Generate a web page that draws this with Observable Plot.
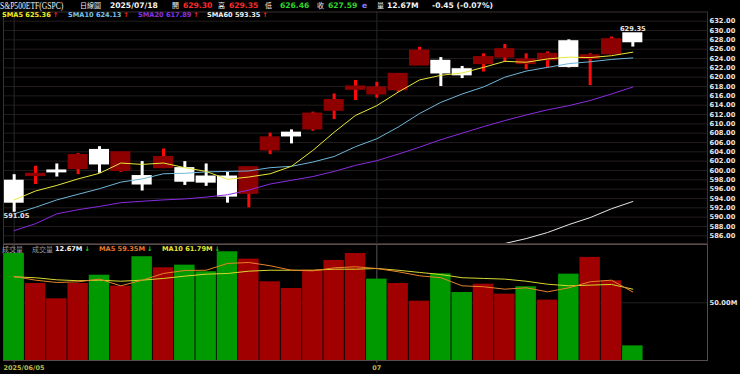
<!DOCTYPE html>
<html><head><meta charset="utf-8">
<script src="https://cdn.jsdelivr.net/npm/d3@7"></script>
<script src="https://cdn.jsdelivr.net/npm/@observablehq/plot@0.6"></script>
<style>
html,body{margin:0;padding:0;background:#000;}
#wrap{position:relative;width:740px;height:374px;background:#000;overflow:hidden;}
#wrap svg{position:absolute;left:0;}
.t{position:absolute;white-space:nowrap;line-height:1;font-family:"DejaVu Sans",sans-serif;font-weight:bold;}
.cjk{font-family:"Noto Sans CJK TC","Noto Sans CJK SC",sans-serif;font-weight:normal;}
.serif{font-family:"Liberation Serif","DejaVu Serif",serif;font-weight:normal;transform:scaleX(0.8);transform-origin:0 50%;}
</style></head><body>
<div id="wrap"></div>
<script>
// ---------- data ----------
const dates = ["2025/06/05","2025/06/06","2025/06/09","2025/06/10","2025/06/11","2025/06/12","2025/06/13","2025/06/16","2025/06/17","2025/06/18","2025/06/20","2025/06/23","2025/06/24","2025/06/25","2025/06/26","2025/06/27","2025/06/30","2025/07/01","2025/07/02","2025/07/03","2025/07/07","2025/07/08","2025/07/09","2025/07/10","2025/07/11","2025/07/14","2025/07/15","2025/07/16","2025/07/17","2025/07/18"];
const opens  = [597.7,598.9,599.9,600.4,604.3,600.0,598.7,600.6,600.4,598.6,598.6,595.1,604.4,608.0,608.9,612.9,617.4,616.4,617.3,622.6,623.4,621.6,622.9,624.3,622.9,623.7,627.6,624.0,625.0,629.30];
const highs  = [599.1,600.9,601.4,603.6,605.1,603.9,601.9,604.6,601.9,601.4,599.6,600.7,608.0,608.7,612.5,616.4,619.3,618.9,620.7,626.4,624.2,622.3,625.0,627.0,625.0,625.4,628.0,625.0,628.6,629.35];
const lows   = [591.05,597.0,598.6,599.1,599.4,599.6,595.6,600.4,596.8,596.6,593.0,592.0,603.4,605.7,608.4,610.9,615.0,615.5,616.8,622.5,618.0,619.7,621.1,623.2,621.6,622.0,622.0,618.2,624.8,626.46];
const closes = [593.2,599.2,599.7,603.2,601.4,603.8,597.1,602.8,597.7,597.5,594.5,600.6,607.0,607.4,612.1,615.0,617.9,617.7,620.6,625.6,620.9,620.5,624.2,625.9,623.7,624.9,622.3,624.6,628.04,627.59];
const prevClose0 = 596.0;
const sma5  = [593.7,595.6,596.8,598.2,599.4,601.6,601.3,601.6,600.6,599.8,598.1,598.6,599.3,600.9,604.3,608.2,611.8,613.9,616.8,619.4,620.4,620.9,622.1,623.4,623.2,623.9,624.3,624.2,624.6,625.36];
const sma10 = [590.7,592.1,593.7,594.9,596.1,597.5,598.2,599.3,599.4,599.7,599.8,599.9,600.6,600.9,601.8,603.0,605.1,606.8,609.3,612.2,614.6,616.4,617.9,620.0,621.3,622.1,622.9,623.3,623.8,624.13];
const sma20 = [587.1,588.6,590.7,591.6,592.3,593.1,593.4,593.7,593.9,594.3,594.8,595.8,597.1,597.9,598.7,599.8,601.1,602.1,603.5,605.0,606.6,608.0,609.4,610.7,611.9,613.0,613.9,615.0,616.4,617.89];
const sma60 = [562.5,563.0,563.4,563.9,564.5,565.2,565.6,566.3,566.9,567.4,567.9,568.6,569.4,570.3,571.4,572.5,573.7,575.0,576.4,577.9,579.5,581.0,582.7,584.3,585.4,586.7,588.4,589.9,591.8,593.35];
const volumes = [92.7,66.7,53.5,66.7,73.9,64.4,89.9,80.3,82.6,76.9,94.2,87.8,68.2,62.4,78.2,86.7,92.7,70.5,66.7,51.4,75.1,58.9,66.1,57.5,63.9,52.3,74.8,89.3,69.1,12.67];
const volMa5  = [72.8,69.6,67.6,68.2,70.5,64.7,69.6,75.4,78.0,78.2,84.1,84.9,82.1,78.2,77.7,80.3,81.2,79.7,76.9,73.4,71.7,64.7,63.9,61.8,63.0,59.5,63.0,68.2,69.6,59.35];
const volMa10 = [72.5,71.7,69.9,69.1,69.6,68.7,69.6,71.1,73.1,74.8,75.4,77.4,78.2,78.2,78.2,79.1,79.1,79.7,78.2,76.3,74.5,71.7,71.1,70.5,68.7,66.1,64.7,65.3,65.9,61.79];
const priceTicks = [586,588,590,592,594,596,598,600,602,604,606,608,610,612,614,616,618,620,622,624,626,628,630,632];
const volTicks = [50];
const title = "S&P500ETF(GSPC)";
const periodLabel = "日線圖";

// ---------- derived table ----------
const rows = dates.map((d, i) => ({
  i, date: d, open: opens[i], high: highs[i], low: lows[i], close: closes[i], vol: volumes[i],
  up: closes[i] >= opens[i],
  volUp: closes[i] >= (i ? closes[i - 1] : prevClose0),
  s5: sma5[i], s10: sma10[i], s20: sma20[i], s60: sma60[i], v5: volMa5[i], v10: volMa10[i]
}));
const dateTicks = rows.filter((d, i) => i === 0 || d.date.slice(5, 7) !== rows[i - 1].date.slice(5, 7))
  .map((d, k) => ({i: d.i, label: k === 0 ? d.date : d.date.slice(5, 7)}));
const N = rows.length;
const xDomain = [-0.5, N + 2.5];

const wrap = document.getElementById("wrap");
const font = {fontFamily: "DejaVu Sans, sans-serif", fontWeight: "bold", fontSize: "6.7px", color: "#e6e6e6", background: "transparent", overflow: "visible"};

// ---------- price panel ----------
const lowest = d3.least(rows, d => d.low);
const highest = d3.greatest(rows, d => d.high);
const price = Plot.plot({
  width: 740, height: 244,
  marginTop: 11.5, marginBottom: 1, marginLeft: 3, marginRight: 33,
  style: font,
  x: {domain: xDomain, axis: null},
  y: {domain: [584.35, 633.97], clamp: true, axis: null},
  color: {type: "identity"},
  marks: [
    Plot.gridY(priceTicks, {stroke: "#231c1c", strokeOpacity: 1}),
    Plot.ruleX(dateTicks, {x: "i", stroke: "#262626"}),
    Plot.ruleX(rows, {x: "i", y1: "low", y2: "high", stroke: d => d.up ? "#ff0a0a" : "#ffffff", strokeWidth: 3}),
    Plot.rect(rows, {x1: d => d.i - 0.47, x2: d => d.i + 0.47, y1: d => Math.min(d.open, d.close), y2: d => Math.max(d.open, d.close),
      fill: d => d.up ? "#8e0000" : "#ffffff", insetTop: -1, insetBottom: -1}),
    Plot.line(rows, {x: "i", y: "s60", stroke: "#e8e8e8", strokeWidth: 1}),
    Plot.line(rows, {x: "i", y: "s20", stroke: "#8a2be2", strokeWidth: 1}),
    Plot.line(rows, {x: "i", y: "s10", stroke: "#6fb6d8", strokeWidth: 1}),
    Plot.line(rows, {x: "i", y: "s5", stroke: "#e8e83a", strokeWidth: 1}),
    Plot.frame({stroke: "#3a3030"}),
    Plot.axisY(priceTicks, {anchor: "right", tickSize: 0, tickPadding: 2, tickFormat: d => d.toFixed(2), fill: "#e6e6e6", fontWeight: "bold", fontSize: 6.7}),
    Plot.text([lowest], {x: d => d.i - 0.5, y: "low", text: d => d.low.toFixed(2), textAnchor: "start", lineAnchor: "top", dy: 1, fill: "#e6e6e6"}),
    Plot.text([highest], {x: "i", y: "high", text: d => d.high.toFixed(2), lineAnchor: "bottom", dy: -3, fill: "#e6e6e6"})
  ]
});
price.style.top = "0px";
wrap.appendChild(price);

// ---------- volume panel ----------
const vol = Plot.plot({
  width: 740, height: 130,
  marginTop: 0, marginBottom: 14, marginLeft: 3, marginRight: 33,
  style: font,
  x: {domain: xDomain, axis: null},
  y: {domain: [0, 100.5], axis: null},
  color: {type: "identity"},
  marks: [
    Plot.gridY(volTicks, {stroke: "#262020", strokeOpacity: 1}),
    Plot.ruleX(dateTicks, {x: "i", stroke: "#555", insetBottom: -3}),
    Plot.rect(rows, {x1: d => d.i - 0.48, x2: d => d.i + 0.48, y1: 0, y2: "vol", fill: d => d.volUp ? "#a00000" : "#009a00"}),
    Plot.line(rows, {x: "i", y: "v10", stroke: "#d8d830", strokeWidth: 1}),
    Plot.line(rows, {x: "i", y: "v5", stroke: "#e8822a", strokeWidth: 1}),
    Plot.frame({stroke: "#5a4c4c"}),
    Plot.axisY(volTicks, {anchor: "right", tickSize: 0, tickPadding: 2, tickFormat: d => d.toFixed(2) + "M", fill: "#e6e6e6", fontWeight: "bold", fontSize: 6.7}),
    Plot.text(dateTicks.slice(0, 1), {x: d => d.i - 0.5, text: "label", frameAnchor: "bottom", textAnchor: "start", dy: 9, fill: "#b8b84a", fontSize: 6.5}),
    Plot.text(dateTicks.slice(1), {x: "i", text: "label", frameAnchor: "bottom", dy: 9, fill: "#b8b84a", fontSize: 6.5})
  ]
});
vol.style.top = "244px";
wrap.appendChild(vol);

// ---------- header texts ----------
function put(html, left, top, color, size, cls) {
  const s = document.createElement("span");
  s.className = "t " + (cls || "");
  s.innerHTML = html;
  s.style.left = left + "px"; s.style.top = top + "px";
  s.style.color = color; s.style.fontSize = size + "px";
  wrap.appendChild(s);
  return s;
}
const last = rows[N - 1], prev = rows[N - 2];
const chg = last.close - prev.close;
const pct = chg / prev.close * 100;
const lastDate = last.date;
put(title, 0, 1.5, "#f0f0f0", 9.5, "serif");
put(periodLabel, 80, 2.2, "#f0f0f0", 7, "cjk");
put(lastDate, 110, 2.3, "#f4f4f4", 7.6);
put("開", 172, 2.2, "#f0f0f0", 7, "cjk");
put(last.open.toFixed(2), 183, 2.3, "#ff2a2a", 7.6);
put("高", 218, 2.2, "#f0f0f0", 7, "cjk");
put(last.high.toFixed(2), 229, 2.3, "#ff2a2a", 7.6);
put("低", 265, 2.2, "#f0f0f0", 7, "cjk");
put(last.low.toFixed(2), 280, 2.3, "#2ed52e", 7.6);
put("收", 317, 2.2, "#f0f0f0", 7, "cjk");
put(last.close.toFixed(2), 328, 2.3, "#2ed52e", 7.6);
put("e", 362, 2.3, "#8a7cff", 7.6);
put("量", 377, 2.2, "#f0f0f0", 7, "cjk");
put(last.vol.toFixed(2) + "M", 387, 2.3, "#f4f4f4", 7.6);
put((chg < 0 ? "" : "+") + chg.toFixed(2) + " (" + (pct < 0 ? "" : "+") + pct.toFixed(2) + "%)", 432, 2.3, "#f4f4f4", 7.6);

function arrow(a, b) { return b >= a ? '<span style="color:#ff1a1a;margin-left:2px">↑</span>' : '<span style="color:#22cc22;margin-left:2px">↓</span>'; }
const smaSpecs = [["SMA5", sma5, "#f0f020", 2], ["SMA10", sma10, "#78c2ea", 68], ["SMA20", sma20, "#8a33e6", 138], ["SMA60", sma60, "#f0f0f0", 207]];
for (const [name, arr, col, left] of smaSpecs) {
  put(name + " " + arr[N - 1].toFixed(2) + arrow(arr[N - 2], arr[N - 1]), left, 12.4, col, 6.6);
}
put("成交量", 2, 245.6, "#9a9a9a", 7, "cjk");
put("成交量", 32, 245.6, "#9a9a9a", 7, "cjk");
put(last.vol.toFixed(2) + "M" + arrow(prev.vol, last.vol), 55, 246.1, "#f4f4f4", 6.6);
put("MA5 " + volMa5[N - 1].toFixed(2) + "M" + arrow(volMa5[N - 2], volMa5[N - 1]), 99, 246.1, "#e8782a", 6.6);
put("MA10 " + volMa10[N - 1].toFixed(2) + "M" + arrow(volMa10[N - 2], volMa10[N - 1]), 162, 246.1, "#e8e830", 6.6);
</script>
</body></html>
